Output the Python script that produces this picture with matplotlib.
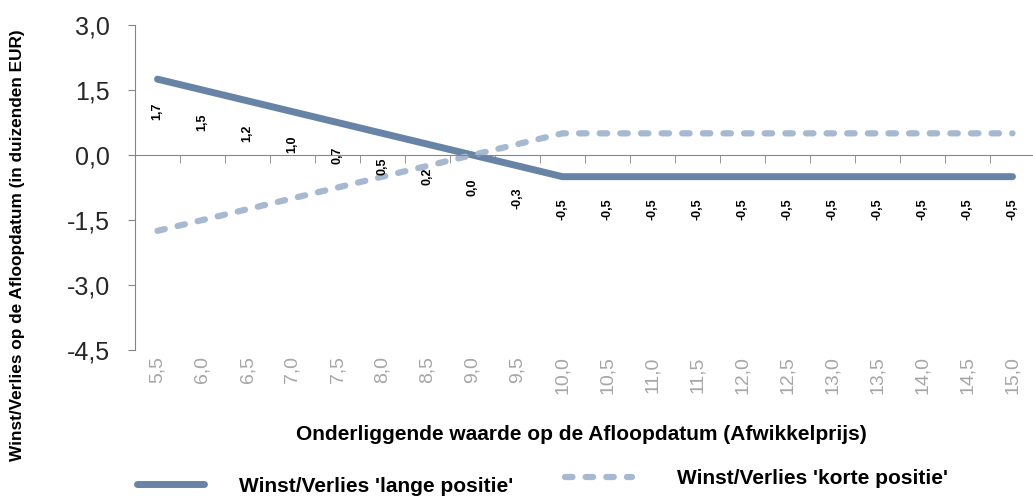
import matplotlib
matplotlib.use('Agg')
import matplotlib.pyplot as plt
from matplotlib.lines import Line2D

plt.rcParams['font.family'] = ['Liberation Sans', 'DejaVu Sans']

prices = ['5,5', '6,0', '6,5', '7,0', '7,5', '8,0', '8,5', '9,0', '9,5', '10,0',
          '10,5', '11,0', '11,5', '12,0', '12,5', '13,0', '13,5', '14,0', '14,5', '15,0']
long_pos = [1.75, 1.5, 1.25, 1.0, 0.75, 0.5, 0.25, 0.0, -0.25, -0.5,
            -0.5, -0.5, -0.5, -0.5, -0.5, -0.5, -0.5, -0.5, -0.5, -0.5]
short_pos = [-1.75, -1.5, -1.25, -1.0, -0.75, -0.5, -0.25, 0.0, 0.25, 0.5,
             0.5, 0.5, 0.5, 0.5, 0.5, 0.5, 0.5, 0.5, 0.5, 0.5]
long_labels = ['1,7', '1,5', '1,2', '1,0', '0,7', '0,5', '0,2', '0,0', '-0,3', '-0,5',
               '-0,5', '-0,5', '-0,5', '-0,5', '-0,5', '-0,5', '-0,5', '-0,5', '-0,5', '-0,5']
yticks = [-4.5, -3.0, -1.5, 0.0, 1.5, 3.0]
ytick_labels = ['-4,5', '-3,0', '-1,5', '0,0', '1,5', '3,0']

long_color = '#6783a6'
short_color = '#a7b9d1'
axis_color = '#868686'

W, H = 1033, 496
fig = plt.figure(figsize=(W / 100, H / 100), dpi=100)
ax = fig.add_axes([135 / W, 146 / H, 900 / W, 325 / H])
x = list(range(len(prices)))

ax.plot(x, long_pos, color=long_color, lw=5, solid_capstyle='round', solid_joinstyle='round')
ax.plot(x, short_pos, color=short_color, lw=4.5, dashes=(1.2, 2.1),
        dash_capstyle='round', dash_joinstyle='round')

for xi, v, lbl in zip(x, long_pos, long_labels):
    ax.annotate(lbl, (xi, v), xytext=(0, -23.5), textcoords='offset points',
                rotation=90, ha='center', va='center', fontsize=9, fontweight='bold',
                color='black')

ax.set_xlim(-0.5, len(prices) - 0.5)
ax.set_ylim(-4.5, 3.0)

for s in ['top', 'right']:
    ax.spines[s].set_visible(False)
ax.spines['left'].set_color(axis_color)
ax.spines['bottom'].set_color(axis_color)
ax.spines['bottom'].set_position(('data', 0))

ax.set_yticks(yticks, ytick_labels)
ax.tick_params(axis='y', length=5, color=axis_color, labelsize=18, labelcolor='#262626', pad=13)

ax.set_xticks(x, prices, rotation=90)
ax.tick_params(axis='x', which='major', length=0, labelsize=14, labelcolor='#a6a6a6', pad=145)
ax.set_xticks([i + 0.5 for i in x], minor=True)
ax.tick_params(axis='x', which='minor', length=5.5, color=axis_color, direction='out')
for lab in ax.get_xticklabels():
    lab.set_va('top')

fig.text(581 / W, 1 - 435 / H, 'Onderliggende waarde op de Afloopdatum (Afwikkelprijs)',
         ha='center', va='center', fontsize=15, fontweight='bold')
fig.text(18 / W, 1 - 245 / H, 'Winst/Verlies op de Afloopdatum (in duizenden EUR)',
         ha='center', va='center', rotation=90, fontsize=12.4, fontweight='bold')

h1 = Line2D([], [], color=long_color, lw=5, solid_capstyle='round')
h2 = Line2D([], [], color=short_color, lw=4.5, dashes=(1.2, 2.1), dash_capstyle='round')
leg1 = fig.legend([h1], ["Winst/Verlies 'lange positie'"], loc='center left',
                  bbox_to_anchor=(137 / W, 1 - 486 / H), frameon=False, borderpad=0,
                  borderaxespad=0, prop={'weight': 'bold', 'size': 15},
                  handlelength=3.2, handletextpad=1.7)
leg2 = fig.legend([h2], ["Winst/Verlies 'korte positie'"], loc='center left',
                  bbox_to_anchor=(565 / W, 1 - 479 / H), frameon=False, borderpad=0,
                  borderaxespad=0, prop={'weight': 'bold', 'size': 15},
                  handlelength=3.2, handletextpad=2.16)

fig.savefig('out.png', dpi=100)
